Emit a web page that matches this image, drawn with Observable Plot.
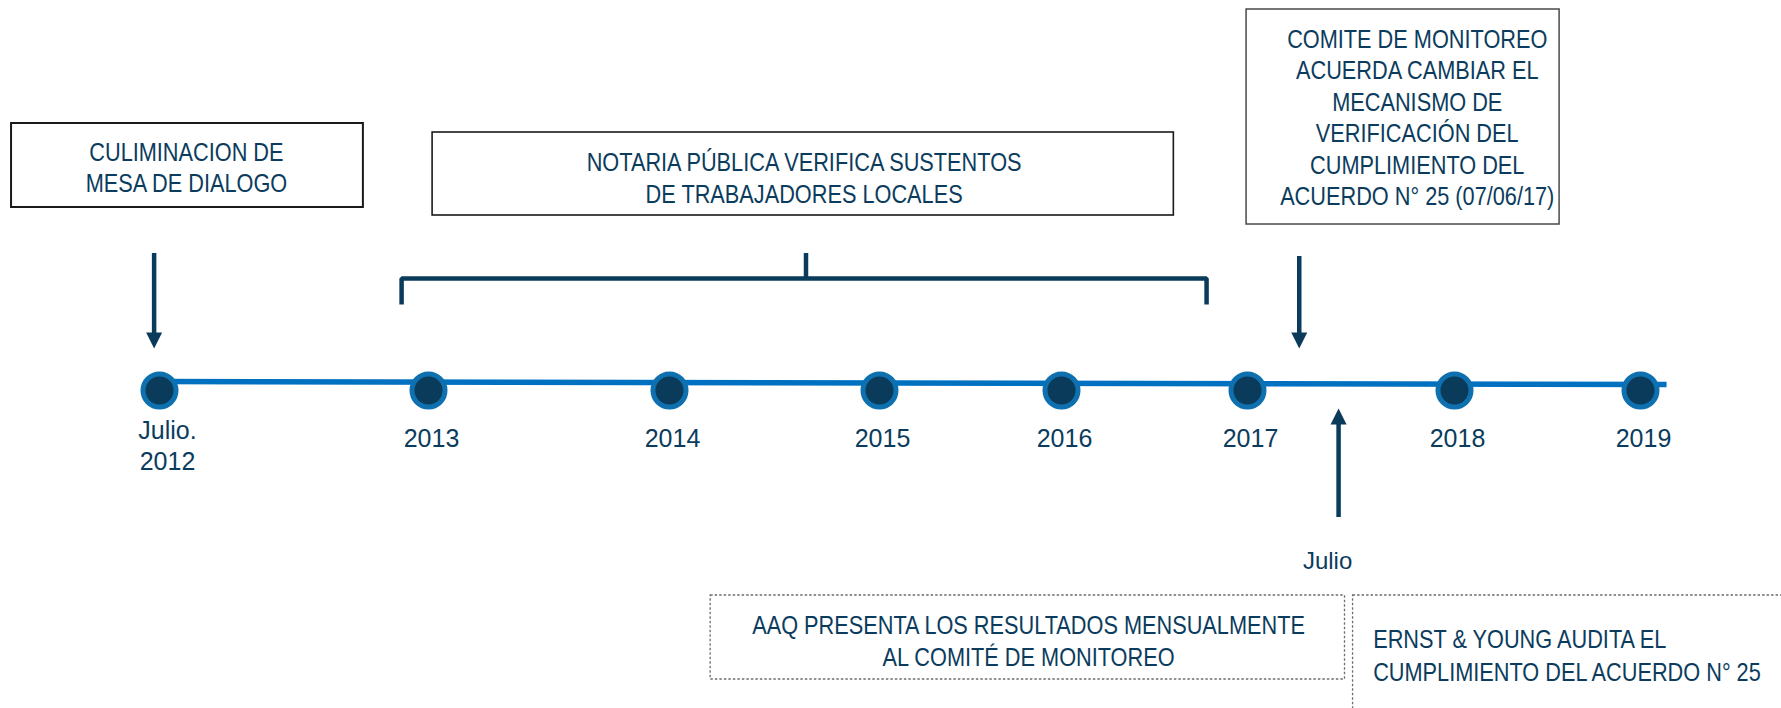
<!DOCTYPE html>
<html>
<head>
<meta charset="utf-8">
<script src="https://cdn.jsdelivr.net/npm/d3@7"></script>
<script src="https://cdn.jsdelivr.net/npm/@observablehq/plot@0.6"></script>
<style>
  html, body { margin: 0; padding: 0; background: #ffffff; overflow: hidden; }
</style>
</head>
<body>
<div id="chart"></div>
<script>
// ---------------- data ----------------
// milestones on the timeline (decimal years; first one is July 2012)
const milestoneYears  = [2012.5, 2013, 2014, 2015, 2016, 2017, 2018, 2019];
const milestoneLabels = ["Julio.\n2012", "2013", "2014", "2015", "2016", "2017", "2018", "2019"];

// events marked by arrows (decimal years)
const eventDates  = [2012.49, 2017.25, 2017.44];
const eventLabels = ["", "", "Julio"];

// period covered by the notary verification (bracket)
const notaryPeriod = [2012.95, 2016.78];
const notaryMid = 2014.65;

// texts of the boxes
const boxTexts = [
  "CULIMINACION DE\nMESA DE DIALOGO",
  "NOTARIA PÚBLICA VERIFICA SUSTENTOS\nDE TRABAJADORES LOCALES",
  "COMITE DE MONITOREO\nACUERDA CAMBIAR EL\nMECANISMO DE\nVERIFICACIÓN DEL\nCUMPLIMIENTO DEL\nACUERDO N° 25 (07/06/17)",
  "AAQ PRESENTA LOS RESULTADOS MENSUALMENTE\nAL COMITÉ DE MONITOREO",
  "ERNST & YOUNG AUDITA EL\nCUMPLIMIENTO DEL ACUERDO N° 25"
];

// ---------------- style ----------------
const NAVY = "#0a3b5a";
const TEXT = "#0b3c5d";
const LINE = "#0070c0";
const RING = "#0e70ae";
const NARROW = "'Liberation Sans Narrow', 'Liberation Sans', Arial, sans-serif";
const SANS = "'Liberation Sans', Arial, sans-serif";

// filled triangle heads for arrows
const triDown = {draw(ctx, size) { const r = Math.sqrt(size / Math.PI); ctx.moveTo(-r, -r); ctx.lineTo(r, -r); ctx.lineTo(0, r); ctx.closePath(); }};
const triUp   = {draw(ctx, size) { const r = Math.sqrt(size / Math.PI); ctx.moveTo(-r, r); ctx.lineTo(r, r); ctx.lineTo(0, -r); ctx.closePath(); }};

// layout table for boxes (x in years, y in vertical layout units)
const boxes = [
  {x1: 2012.225, x2: 2012.879, y1: 123, y2: 207, tx: 2012.55, ty: 166, anchor: "middle", stroke: "#1a1a1a", sw: 2, dash: null, text: boxTexts[0]},
  {x1: 2013.017, x2: 2016.604, y1: 132, y2: 215, tx: 2014.641, ty: 176.5, anchor: "middle", stroke: "#1a1a1a", sw: 1.6, dash: null, text: boxTexts[1]},
  {x1: 2016.995, x2: 2018.565, y1: 9, y2: 224, tx: 2017.82, ty: 116, anchor: "middle", stroke: "#4a4a4a", sw: 1.5, dash: null, text: boxTexts[2]},
  {x1: 2014.196, x2: 2017.471, y1: 595, y2: 679, tx: 2015.819, ty: 639.5, anchor: "middle", stroke: "#6e6e6e", sw: 1.3, dash: "2.5,2", text: boxTexts[3]},
  {x1: 2017.51, x2: 2020.2, y1: 595, y2: 760, tx: 2017.607, ty: 653.5, anchor: "start", stroke: "#6e6e6e", sw: 1.3, dash: "2.5,2", text: boxTexts[4]}
];

const solidBoxes = boxes.filter(b => !b.dash);
const dottedBoxes = boxes.filter(b => b.dash);

const chart = Plot.plot({
  width: 1781,
  height: 708,
  margin: 0,
  style: {background: "#ffffff", overflow: "hidden"},
  x: {type: "linear", axis: null, domain: milestoneYears, range: [159, 428, 669, 879, 1061, 1247, 1454, 1640]},
  y: {type: "linear", axis: null, domain: [0, 708], range: [0, 708]},
  marks: [
    // boxes
    Plot.rect(solidBoxes, {x1: "x1", x2: "x2", y1: "y1", y2: "y2", fill: "none", stroke: "stroke", strokeWidth: d => d.sw}),
    Plot.rect(dottedBoxes, {x1: "x1", x2: "x2", y1: "y1", y2: "y2", fill: "none", stroke: "#6e6e6e", strokeWidth: 1.3, strokeDasharray: "2.5,2", clip: true}),
    Plot.text(boxes.filter(b => b.anchor === "middle"), {x: "tx", y: "ty", text: "text", textAnchor: "middle", lineAnchor: "middle", lineHeight: 1.19, fontSize: 26.5, fontFamily: NARROW, fill: TEXT}),
    Plot.text(boxes.filter(b => b.anchor === "start"), {x: "tx", y: "ty", text: "text", textAnchor: "start", lineAnchor: "middle", lineHeight: 1.24, fontSize: 26.5, fontFamily: NARROW, fill: TEXT}),

    // bracket for the notary period
    Plot.line([
      {x: notaryPeriod[0], y: 304}, {x: notaryPeriod[0], y: 278},
      {x: notaryPeriod[1], y: 278}, {x: notaryPeriod[1], y: 304}
    ], {x: "x", y: "y", stroke: NAVY, strokeWidth: 4.5, strokeLinejoin: "miter", strokeLinecap: "butt"}),
    Plot.ruleX([notaryMid], {x: d => d, y1: 253, y2: 278, stroke: NAVY, strokeWidth: 4.5}),

    // timeline
    Plot.line([{x: milestoneYears[0], y: 381}, {x: 2019.14, y: 384}], {x: "x", y: "y", stroke: LINE, strokeWidth: 5.5, strokeLinecap: "butt"}),
    Plot.dot(milestoneYears, {x: d => d, y: 390, r: 16.5, fill: NAVY, stroke: RING, strokeWidth: 5}),

    // milestone labels
    Plot.text(milestoneYears.slice(0, 1), {x: d => d, y: 444.5, dx: 8, text: () => milestoneLabels[0], lineAnchor: "middle", lineHeight: 1.24, fontSize: 25, fontFamily: SANS, fill: TEXT}),
    Plot.text(milestoneYears.slice(1), {x: d => d, y: 438, dx: 3, text: (d, i) => milestoneLabels[i + 1], lineAnchor: "middle", fontSize: 25, fontFamily: SANS, fill: TEXT}),

    // event arrows (down arrows for the first two, up arrow for the third)
    Plot.ruleX(eventDates.slice(0, 2), {x: d => d, y1: [253, 256], y2: 341, stroke: NAVY, strokeWidth: 4.5}),
    Plot.dot(eventDates.slice(0, 2), {x: d => d, y: 340, r: 8, symbol: triDown, fill: NAVY, stroke: "none"}),
    Plot.ruleX(eventDates.slice(2), {x: d => d, y1: 517, y2: 415, stroke: NAVY, strokeWidth: 4.5}),
    Plot.dot(eventDates.slice(2), {x: d => d, y: 416, r: 8, symbol: triUp, fill: NAVY, stroke: "none"}),
    Plot.text(eventDates.slice(2), {x: d => d, y: 561, dx: -11, text: (d, i) => eventLabels[i + 2], lineAnchor: "middle", fontSize: 24, fontFamily: SANS, fill: TEXT})
  ]
});

// The box texts use a condensed face (Arial Narrow look): compress them horizontally
chart.querySelectorAll("g[font-family*='Narrow'] text").forEach(t => {
  const tr = t.getAttribute("transform") || "";
  t.setAttribute("transform", tr + " scale(0.82,1)");
});

document.getElementById("chart").appendChild(chart);
</script>
</body>
</html>
